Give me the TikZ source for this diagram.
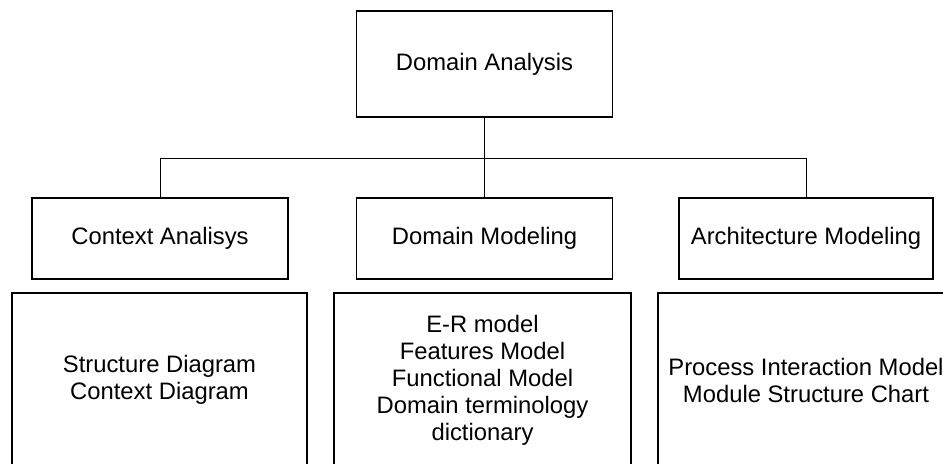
\documentclass[tikz,border=0pt]{standalone}
\usepackage{fontspec}
\setmainfont{Liberation Sans}
\usepackage{tikz}
\usetikzlibrary{positioning}

\begin{document}
\begin{tikzpicture}[x=0.5pt,y=-0.5pt]
\tikzstyle{every node}+=[font=\fontsize{11.9}{13.5}\selectfont, align=center, inner sep=0pt]
\tikzstyle{box}=[draw=black, line width=0.75pt, minimum width=128pt, minimum height=40.5pt]
\tikzstyle{bigbox}=[draw=black, line width=0.75pt, minimum width=148pt, minimum height=87pt]
\tikzstyle{link}=[draw=black, line width=0.4pt]
\useasboundingbox (0,0) rectangle (943,463);
\clip (0,0) rectangle (943,463);
% top level
\node [box, minimum height=53pt] (ana) at (484.5,64) {Domain Analysis};
% second level
\node [box] (ctx) at (160,238.5) {Context Analisys};
\node [box] (dom) at (484.5,238.5) {Domain Modeling};
\node [box, minimum width=127pt] (arch) at (806,238.5) {Architecture Modeling};
% products
\node [bigbox, minimum width=147.5pt] (ctxout) at (159.5,380) {Structure Diagram\\Context Diagram};
\node [bigbox, minimum width=148.5pt] (domout) at (482.5,380) {E-R model\\Features Model\\Functional Model\\Domain terminology\\dictionary};
\node [bigbox] (archout) at (806,380) {Process Interaction Model\\Module Structure Chart};
% connectors
\coordinate (bus) at (484.5,158);
\draw [link] (ana.south) -- (dom.north);
\draw [link] (ctx.north) |- (bus) -| (arch.north);
\end{tikzpicture}
\end{document}
